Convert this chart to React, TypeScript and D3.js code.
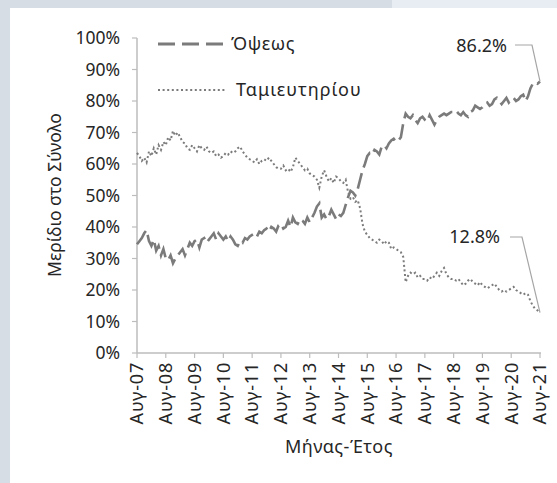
import * as d3 from "d3";

// monthly shares (%), Aug-07 .. Aug-21
const sight = [
  34.5, 35.5, 36.5, 38, 39, 35.5, 34, 36, 32.5, 34, 31, 33,
  30, 29.5, 31, 28.5, 30, 31, 32, 33, 31, 33, 35, 34,
  35.5, 36, 33.5, 36, 36.5, 35, 36, 37, 38, 36, 38, 37,
  36, 37, 35.5, 37, 36, 34.5, 34, 35.5, 35, 36.5, 36, 37,
  37.5, 38, 37, 38.5, 38, 39, 39.5, 38.5, 40, 39.5, 38.5, 40.5,
  41, 39.5, 40, 42, 40, 43, 41.5, 41, 42.5, 42, 41, 43,
  41.5, 43, 44.5, 46.5, 47.5, 43, 44, 42.5, 43.5, 45.5, 44, 42.5,
  44, 43.5, 44.5, 47, 49.5, 51.5, 51, 50, 52, 55, 58, 60,
  62.5, 63.5, 63, 64.5, 64, 63, 65.5, 66, 65, 66.5, 67.5, 68,
  67, 67.5, 68.5, 73, 76, 75, 74.5, 75.5, 74, 73, 74.5, 75,
  74, 73.5, 75.5, 74, 72.5, 74, 75, 75.5, 76, 75.5, 76, 76.5,
  76.5, 77, 76, 75.5, 76.5, 75.5, 75, 76.5, 77, 78.5, 78, 77.5,
  78, 79, 79.5, 78.5, 79, 80.5, 81, 80, 79, 80, 81, 79.5,
  80.5, 81, 80, 80.5, 81.5, 82, 80, 81.5, 84, 85.5, 86, 85.5,
  86.2,
];
const savings = [
  63.5, 62.5, 61, 62, 60.5, 64, 62.5, 65, 63, 66, 64.5, 67,
  66, 68.5, 67.5, 70.5, 69, 70, 68.5, 67, 66.5, 65, 64.5, 66,
  65, 64, 66, 65, 64.5, 65.5, 64, 63.5, 64, 62.5, 63, 62,
  62.5, 63.5, 63, 64, 63.5, 64, 65, 65.5, 64, 63, 62, 61.5,
  61, 60.5, 61.5, 60, 61, 61.5, 61, 62, 61, 60, 59, 58.5,
  58.5, 59.5, 58, 58.5, 57.5, 59, 62, 61, 60, 59, 58, 58.5,
  57, 56.5, 56, 55, 52.5, 56, 58, 56, 54.5, 55.5, 54, 56,
  55.5, 54.5, 54, 55, 51, 49, 49.5, 48, 48.5, 46, 41, 38.5,
  37.5, 36.5, 36, 35.5, 35, 36, 35.5, 34.5, 35.5, 35, 33, 33.5,
  33, 32.5, 32, 30.5, 22.5, 24.5, 25.5, 25, 25.5, 24, 24.5, 23.5,
  23.5, 23, 24, 23.5, 24.5, 25.5, 24.5, 26, 27, 25, 24, 23.5,
  23.5, 23, 23.5, 22.5, 21.5, 22, 23, 23.5, 22.5, 22, 21.5, 22.5,
  21.5, 21, 20.5, 21, 21.5, 22, 21, 20, 19.5, 20, 19.5, 20,
  20.5, 21, 20, 19.5, 19, 18.5, 19, 18.5, 16.5, 15, 14, 13.5,
  12.8,
];
const tickLabels = [
  "Αυγ-07", "Αυγ-08", "Αυγ-09", "Αυγ-10", "Αυγ-11", "Αυγ-12", "Αυγ-13", "Αυγ-14",
  "Αυγ-15", "Αυγ-16", "Αυγ-17", "Αυγ-18", "Αυγ-19", "Αυγ-20", "Αυγ-21",
];
const yTicks = [0, 10, 20, 30, 40, 50, 60, 70, 80, 90, 100];
const seriesNames = ["Όψεως", "Ταμιευτηρίου"];

const W = 557;
const H = 483;
const left = 137;
const right = 540;
const top = 38;
const bottom = 353;
const font = "'Noto Sans', sans-serif";
const ink = "#262626";
const lineCol = "#7b7b7b";
const axisCol = "#bdbdbd";

export default function App() {
  const x = d3.scaleLinear().domain([0, sight.length - 1]).range([left, right]);
  const y = d3.scaleLinear().domain([0, 100]).range([bottom, top]);
  const line = d3
    .line<number>()
    .x((_, i) => x(i))
    .y((d) => y(d));
  const last = sight.length - 1;

  return (
    <div style={{ position: "fixed", left: 0, top: 0 }}>
      <svg width={W} height={H} style={{ display: "block" }}>
        <rect width={W} height={H} fill="#d6dde5" />
        <rect x={392} width={W - 392} height={8} fill="#e8edf4" />
        <rect x={10} y={8} width={W - 10} height={H - 8} fill="#fff" />

        {/* y axis */}
        <line x1={left} x2={left} y1={y(100)} y2={bottom} stroke={axisCol} strokeWidth={1.5} />
        {yTicks.map((t) => (
          <g key={t}>
            <line x1={left - 5} x2={left} y1={y(t)} y2={y(t)} stroke={axisCol} strokeWidth={1.2} />
            <text
              x={120}
              y={y(t)}
              dy="0.35em"
              textAnchor="end"
              fontFamily={font}
              fontSize={17.5}
              fill={ink}
            >
              {t}%
            </text>
          </g>
        ))}

        {/* x axis */}
        <line x1={left} x2={right + 1} y1={bottom} y2={bottom} stroke={axisCol} strokeWidth={1.5} />
        {tickLabels.map((lab, k) => {
          const tx = x(k * 12);
          return (
            <g key={lab}>
              <line x1={tx} x2={tx} y1={bottom} y2={bottom + 5} stroke={axisCol} strokeWidth={1.2} />
              <text
                transform={`translate(${tx},${bottom + 9}) rotate(-90)`}
                textAnchor="end"
                dy="0.35em"
                fontFamily={font}
                fontSize={18}
                letterSpacing={0.8}
                fill={ink}
              >
                {lab}
              </text>
            </g>
          );
        })}

        <text
          transform={`translate(55,195) rotate(-90)`}
          textAnchor="middle"
          dy="0.35em"
          fontFamily={font}
          fontSize={17.5}
          fill={ink}
        >
          Μερίδιο στο Σύνολο
        </text>
        <text
          x={339}
          y={447}
          dy="0.35em"
          textAnchor="middle"
          fontFamily={font}
          fontSize={18}
          letterSpacing={0.5}
          fill={ink}
        >
          Μήνας-Έτος
        </text>

        {/* series */}
        <path d={line(savings) ?? ""} fill="none" stroke={lineCol} strokeWidth={2} strokeDasharray="2,2.6" />
        <path d={line(sight) ?? ""} fill="none" stroke={lineCol} strokeWidth={2.6} strokeDasharray="16,6" />

        {/* legend */}
        <line x1={158} x2={227} y1={44} y2={44} stroke={lineCol} strokeWidth={2.8} strokeDasharray="17,7" />
        <text x={231} y={44} dy="0.35em" fontFamily={font} fontSize={18} letterSpacing={0.6} fill={ink}>
          {seriesNames[0]}
        </text>
        <line x1={158} x2={226} y1={90} y2={90} stroke={lineCol} strokeWidth={2} strokeDasharray="2,2.6" />
        <text x={236} y={90} dy="0.35em" fontFamily={font} fontSize={18} letterSpacing={1} fill={ink}>
          {seriesNames[1]}
        </text>

        {/* end labels */}
        <text x={507} y={46} dy="0.35em" textAnchor="end" fontFamily={font} fontSize={18} fill={ink}>
          {sight[last].toFixed(1)}%
        </text>
        <polyline
          points={`515,45 532,45 ${x(last)},${y(sight[last])}`}
          fill="none"
          stroke="#a6a6a6"
          strokeWidth={1.2}
        />
        <text x={500} y={237} dy="0.35em" textAnchor="end" fontFamily={font} fontSize={18} fill={ink}>
          {savings[last].toFixed(1)}%
        </text>
        <polyline
          points={`510,237 522,237 ${x(last)},${y(savings[last])}`}
          fill="none"
          stroke="#a6a6a6"
          strokeWidth={1.2}
        />
      </svg>
    </div>
  );
}
